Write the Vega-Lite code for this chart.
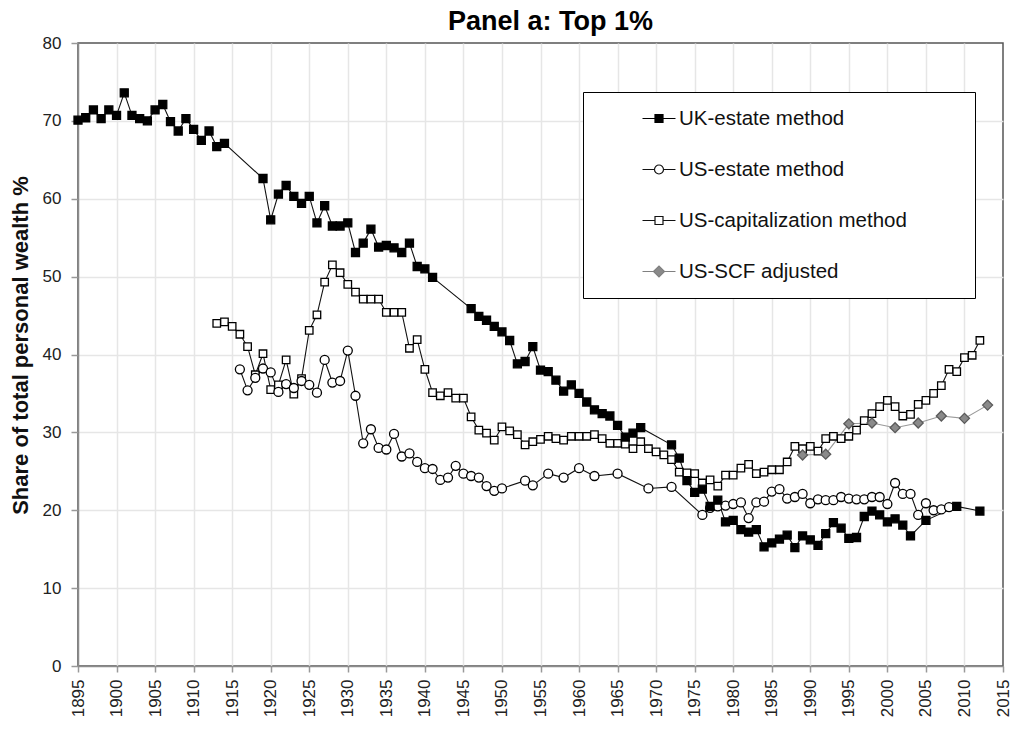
{
  "$schema": "https://vega.github.io/schema/vega-lite/v6.json",
  "width": 925,
  "height": 623,
  "autosize": {"type": "none"},
  "padding": {"left": 78, "top": 43, "right": 14, "bottom": 67},
  "background": "white",
  "config": {
    "font": "Liberation Sans",
    "view": {"stroke": "#555", "strokeWidth": 1.5},
    "legend": {
      "title": null,
      "orient": "none",
      "legendX": 505,
      "legendY": 49,
      "padding": 1,
      "fillColor": "white",
      "strokeColor": "black",
      "symbolSize": 2401,
      "symbolOpacity": 1,
      "symbolOffset": 49.5,
      "symbolStrokeWidth": 1.2,
      "labelOffset": -5.5,
      "rowPadding": 0,
      "labelFont": "Liberation Sans",
      "labelFontSize": 20.5,
      "labelColor": "#111",
      "labelLimit": 400
    }
  },
  "title": {
    "text": "Panel a: Top 1%",
    "font": "Liberation Sans",
    "fontSize": 27,
    "fontWeight": "bold",
    "color": "black",
    "anchor": "middle",
    "frame": "group",
    "dx": 10,
    "dy": 9,
    "offset": 7
  },
  "data": {
    "values": [
      {"series": "US-capitalization method", "year": 1913, "share": 44.0},
      {"series": "US-capitalization method", "year": 1914, "share": 44.2},
      {"series": "US-capitalization method", "year": 1915, "share": 43.6},
      {"series": "US-capitalization method", "year": 1916, "share": 42.6},
      {"series": "US-capitalization method", "year": 1917, "share": 41.0},
      {"series": "US-capitalization method", "year": 1918, "share": 37.4},
      {"series": "US-capitalization method", "year": 1919, "share": 40.1},
      {"series": "US-capitalization method", "year": 1920, "share": 35.5},
      {"series": "US-capitalization method", "year": 1921, "share": 36.1},
      {"series": "US-capitalization method", "year": 1922, "share": 39.3},
      {"series": "US-capitalization method", "year": 1923, "share": 34.9},
      {"series": "US-capitalization method", "year": 1924, "share": 36.9},
      {"series": "US-capitalization method", "year": 1925, "share": 43.1},
      {"series": "US-capitalization method", "year": 1926, "share": 45.1},
      {"series": "US-capitalization method", "year": 1927, "share": 49.3},
      {"series": "US-capitalization method", "year": 1928, "share": 51.5},
      {"series": "US-capitalization method", "year": 1929, "share": 50.5},
      {"series": "US-capitalization method", "year": 1930, "share": 49.0},
      {"series": "US-capitalization method", "year": 1931, "share": 48.0},
      {"series": "US-capitalization method", "year": 1932, "share": 47.1},
      {"series": "US-capitalization method", "year": 1933, "share": 47.1},
      {"series": "US-capitalization method", "year": 1934, "share": 47.1},
      {"series": "US-capitalization method", "year": 1935, "share": 45.4},
      {"series": "US-capitalization method", "year": 1936, "share": 45.4},
      {"series": "US-capitalization method", "year": 1937, "share": 45.4},
      {"series": "US-capitalization method", "year": 1938, "share": 40.8},
      {"series": "US-capitalization method", "year": 1939, "share": 41.9},
      {"series": "US-capitalization method", "year": 1940, "share": 38.1},
      {"series": "US-capitalization method", "year": 1941, "share": 35.1},
      {"series": "US-capitalization method", "year": 1942, "share": 34.7},
      {"series": "US-capitalization method", "year": 1943, "share": 35.1},
      {"series": "US-capitalization method", "year": 1944, "share": 34.4},
      {"series": "US-capitalization method", "year": 1945, "share": 34.4},
      {"series": "US-capitalization method", "year": 1946, "share": 32.0},
      {"series": "US-capitalization method", "year": 1947, "share": 30.3},
      {"series": "US-capitalization method", "year": 1948, "share": 29.9},
      {"series": "US-capitalization method", "year": 1949, "share": 29.0},
      {"series": "US-capitalization method", "year": 1950, "share": 30.7},
      {"series": "US-capitalization method", "year": 1951, "share": 30.2},
      {"series": "US-capitalization method", "year": 1952, "share": 29.7},
      {"series": "US-capitalization method", "year": 1953, "share": 28.4},
      {"series": "US-capitalization method", "year": 1954, "share": 28.8},
      {"series": "US-capitalization method", "year": 1955, "share": 29.1},
      {"series": "US-capitalization method", "year": 1956, "share": 29.5},
      {"series": "US-capitalization method", "year": 1957, "share": 29.2},
      {"series": "US-capitalization method", "year": 1958, "share": 29.0},
      {"series": "US-capitalization method", "year": 1959, "share": 29.5},
      {"series": "US-capitalization method", "year": 1960, "share": 29.5},
      {"series": "US-capitalization method", "year": 1961, "share": 29.5},
      {"series": "US-capitalization method", "year": 1962, "share": 29.7},
      {"series": "US-capitalization method", "year": 1963, "share": 29.2},
      {"series": "US-capitalization method", "year": 1964, "share": 28.6},
      {"series": "US-capitalization method", "year": 1965, "share": 28.6},
      {"series": "US-capitalization method", "year": 1966, "share": 28.5},
      {"series": "US-capitalization method", "year": 1967, "share": 27.9},
      {"series": "US-capitalization method", "year": 1968, "share": 28.8},
      {"series": "US-capitalization method", "year": 1969, "share": 27.9},
      {"series": "US-capitalization method", "year": 1970, "share": 27.5},
      {"series": "US-capitalization method", "year": 1971, "share": 27.1},
      {"series": "US-capitalization method", "year": 1972, "share": 26.5},
      {"series": "US-capitalization method", "year": 1973, "share": 24.9},
      {"series": "US-capitalization method", "year": 1974, "share": 24.8},
      {"series": "US-capitalization method", "year": 1975, "share": 24.7},
      {"series": "US-capitalization method", "year": 1976, "share": 23.5},
      {"series": "US-capitalization method", "year": 1977, "share": 23.9},
      {"series": "US-capitalization method", "year": 1978, "share": 23.1},
      {"series": "US-capitalization method", "year": 1979, "share": 24.5},
      {"series": "US-capitalization method", "year": 1980, "share": 24.5},
      {"series": "US-capitalization method", "year": 1981, "share": 25.4},
      {"series": "US-capitalization method", "year": 1982, "share": 25.9},
      {"series": "US-capitalization method", "year": 1983, "share": 24.7},
      {"series": "US-capitalization method", "year": 1984, "share": 24.9},
      {"series": "US-capitalization method", "year": 1985, "share": 25.2},
      {"series": "US-capitalization method", "year": 1986, "share": 25.2},
      {"series": "US-capitalization method", "year": 1987, "share": 26.2},
      {"series": "US-capitalization method", "year": 1988, "share": 28.2},
      {"series": "US-capitalization method", "year": 1989, "share": 27.9},
      {"series": "US-capitalization method", "year": 1990, "share": 28.2},
      {"series": "US-capitalization method", "year": 1991, "share": 27.6},
      {"series": "US-capitalization method", "year": 1992, "share": 29.2},
      {"series": "US-capitalization method", "year": 1993, "share": 29.5},
      {"series": "US-capitalization method", "year": 1994, "share": 29.2},
      {"series": "US-capitalization method", "year": 1995, "share": 29.5},
      {"series": "US-capitalization method", "year": 1996, "share": 30.3},
      {"series": "US-capitalization method", "year": 1997, "share": 31.5},
      {"series": "US-capitalization method", "year": 1998, "share": 32.4},
      {"series": "US-capitalization method", "year": 1999, "share": 33.3},
      {"series": "US-capitalization method", "year": 2000, "share": 34.1},
      {"series": "US-capitalization method", "year": 2001, "share": 33.3},
      {"series": "US-capitalization method", "year": 2002, "share": 32.1},
      {"series": "US-capitalization method", "year": 2003, "share": 32.3},
      {"series": "US-capitalization method", "year": 2004, "share": 33.6},
      {"series": "US-capitalization method", "year": 2005, "share": 34.1},
      {"series": "US-capitalization method", "year": 2006, "share": 35.0},
      {"series": "US-capitalization method", "year": 2007, "share": 36.0},
      {"series": "US-capitalization method", "year": 2008, "share": 38.1},
      {"series": "US-capitalization method", "year": 2009, "share": 37.8},
      {"series": "US-capitalization method", "year": 2010, "share": 39.6},
      {"series": "US-capitalization method", "year": 2011, "share": 39.9},
      {"series": "US-capitalization method", "year": 2012, "share": 41.8},

      {"series": "US-estate method", "year": 1916, "share": 38.1},
      {"series": "US-estate method", "year": 1917, "share": 35.4},
      {"series": "US-estate method", "year": 1918, "share": 37.0},
      {"series": "US-estate method", "year": 1919, "share": 38.2},
      {"series": "US-estate method", "year": 1920, "share": 37.7},
      {"series": "US-estate method", "year": 1921, "share": 35.2},
      {"series": "US-estate method", "year": 1922, "share": 36.2},
      {"series": "US-estate method", "year": 1923, "share": 35.7},
      {"series": "US-estate method", "year": 1924, "share": 36.6},
      {"series": "US-estate method", "year": 1925, "share": 36.1},
      {"series": "US-estate method", "year": 1926, "share": 35.1},
      {"series": "US-estate method", "year": 1927, "share": 39.3},
      {"series": "US-estate method", "year": 1928, "share": 36.4},
      {"series": "US-estate method", "year": 1929, "share": 36.6},
      {"series": "US-estate method", "year": 1930, "share": 40.5},
      {"series": "US-estate method", "year": 1931, "share": 34.7},
      {"series": "US-estate method", "year": 1932, "share": 28.6},
      {"series": "US-estate method", "year": 1933, "share": 30.4},
      {"series": "US-estate method", "year": 1934, "share": 28.0},
      {"series": "US-estate method", "year": 1935, "share": 27.8},
      {"series": "US-estate method", "year": 1936, "share": 29.8},
      {"series": "US-estate method", "year": 1937, "share": 26.9},
      {"series": "US-estate method", "year": 1938, "share": 27.3},
      {"series": "US-estate method", "year": 1939, "share": 26.2},
      {"series": "US-estate method", "year": 1940, "share": 25.4},
      {"series": "US-estate method", "year": 1941, "share": 25.3},
      {"series": "US-estate method", "year": 1942, "share": 23.9},
      {"series": "US-estate method", "year": 1943, "share": 24.2},
      {"series": "US-estate method", "year": 1944, "share": 25.7},
      {"series": "US-estate method", "year": 1945, "share": 24.7},
      {"series": "US-estate method", "year": 1946, "share": 24.4},
      {"series": "US-estate method", "year": 1947, "share": 24.2},
      {"series": "US-estate method", "year": 1948, "share": 23.1},
      {"series": "US-estate method", "year": 1949, "share": 22.5},
      {"series": "US-estate method", "year": 1950, "share": 22.8},
      {"series": "US-estate method", "year": 1953, "share": 23.8},
      {"series": "US-estate method", "year": 1954, "share": 23.2},
      {"series": "US-estate method", "year": 1956, "share": 24.7},
      {"series": "US-estate method", "year": 1958, "share": 24.2},
      {"series": "US-estate method", "year": 1960, "share": 25.4},
      {"series": "US-estate method", "year": 1962, "share": 24.4},
      {"series": "US-estate method", "year": 1965, "share": 24.7},
      {"series": "US-estate method", "year": 1969, "share": 22.8},
      {"series": "US-estate method", "year": 1972, "share": 23.0},
      {"series": "US-estate method", "year": 1976, "share": 19.4},
      {"series": "US-estate method", "year": 1977, "share": 20.3},
      {"series": "US-estate method", "year": 1978, "share": 20.5},
      {"series": "US-estate method", "year": 1979, "share": 20.6},
      {"series": "US-estate method", "year": 1980, "share": 20.8},
      {"series": "US-estate method", "year": 1981, "share": 21.0},
      {"series": "US-estate method", "year": 1982, "share": 19.0},
      {"series": "US-estate method", "year": 1983, "share": 21.0},
      {"series": "US-estate method", "year": 1984, "share": 21.1},
      {"series": "US-estate method", "year": 1985, "share": 22.4},
      {"series": "US-estate method", "year": 1986, "share": 22.7},
      {"series": "US-estate method", "year": 1987, "share": 21.5},
      {"series": "US-estate method", "year": 1988, "share": 21.7},
      {"series": "US-estate method", "year": 1989, "share": 22.1},
      {"series": "US-estate method", "year": 1990, "share": 20.9},
      {"series": "US-estate method", "year": 1991, "share": 21.4},
      {"series": "US-estate method", "year": 1992, "share": 21.3},
      {"series": "US-estate method", "year": 1993, "share": 21.3},
      {"series": "US-estate method", "year": 1994, "share": 21.7},
      {"series": "US-estate method", "year": 1995, "share": 21.5},
      {"series": "US-estate method", "year": 1996, "share": 21.4},
      {"series": "US-estate method", "year": 1997, "share": 21.4},
      {"series": "US-estate method", "year": 1998, "share": 21.7},
      {"series": "US-estate method", "year": 1999, "share": 21.7},
      {"series": "US-estate method", "year": 2000, "share": 20.8},
      {"series": "US-estate method", "year": 2001, "share": 23.5},
      {"series": "US-estate method", "year": 2002, "share": 22.1},
      {"series": "US-estate method", "year": 2003, "share": 22.1},
      {"series": "US-estate method", "year": 2004, "share": 19.4},
      {"series": "US-estate method", "year": 2005, "share": 20.9},
      {"series": "US-estate method", "year": 2006, "share": 20.0},
      {"series": "US-estate method", "year": 2007, "share": 20.1},
      {"series": "US-estate method", "year": 2008, "share": 20.4},

      {"series": "US-SCF adjusted", "year": 1989, "share": 27.1},
      {"series": "US-SCF adjusted", "year": 1992, "share": 27.2},
      {"series": "US-SCF adjusted", "year": 1995, "share": 31.1},
      {"series": "US-SCF adjusted", "year": 1998, "share": 31.2},
      {"series": "US-SCF adjusted", "year": 2001, "share": 30.6},
      {"series": "US-SCF adjusted", "year": 2004, "share": 31.2},
      {"series": "US-SCF adjusted", "year": 2007, "share": 32.1},
      {"series": "US-SCF adjusted", "year": 2010, "share": 31.8},
      {"series": "US-SCF adjusted", "year": 2013, "share": 33.5},

      {"series": "UK-estate method", "year": 1895, "share": 70.1},
      {"series": "UK-estate method", "year": 1896, "share": 70.4},
      {"series": "UK-estate method", "year": 1897, "share": 71.4},
      {"series": "UK-estate method", "year": 1898, "share": 70.3},
      {"series": "UK-estate method", "year": 1899, "share": 71.4},
      {"series": "UK-estate method", "year": 1900, "share": 70.7},
      {"series": "UK-estate method", "year": 1901, "share": 73.6},
      {"series": "UK-estate method", "year": 1902, "share": 70.7},
      {"series": "UK-estate method", "year": 1903, "share": 70.3},
      {"series": "UK-estate method", "year": 1904, "share": 70.0},
      {"series": "UK-estate method", "year": 1905, "share": 71.4},
      {"series": "UK-estate method", "year": 1906, "share": 72.1},
      {"series": "UK-estate method", "year": 1907, "share": 69.9},
      {"series": "UK-estate method", "year": 1908, "share": 68.7},
      {"series": "UK-estate method", "year": 1909, "share": 70.3},
      {"series": "UK-estate method", "year": 1910, "share": 68.9},
      {"series": "UK-estate method", "year": 1911, "share": 67.5},
      {"series": "UK-estate method", "year": 1912, "share": 68.7},
      {"series": "UK-estate method", "year": 1913, "share": 66.7},
      {"series": "UK-estate method", "year": 1914, "share": 67.1},
      {"series": "UK-estate method", "year": 1919, "share": 62.6},
      {"series": "UK-estate method", "year": 1920, "share": 57.3},
      {"series": "UK-estate method", "year": 1921, "share": 60.6},
      {"series": "UK-estate method", "year": 1922, "share": 61.7},
      {"series": "UK-estate method", "year": 1923, "share": 60.3},
      {"series": "UK-estate method", "year": 1924, "share": 59.4},
      {"series": "UK-estate method", "year": 1925, "share": 60.3},
      {"series": "UK-estate method", "year": 1926, "share": 56.9},
      {"series": "UK-estate method", "year": 1927, "share": 59.1},
      {"series": "UK-estate method", "year": 1928, "share": 56.5},
      {"series": "UK-estate method", "year": 1929, "share": 56.5},
      {"series": "UK-estate method", "year": 1930, "share": 56.9},
      {"series": "UK-estate method", "year": 1931, "share": 53.1},
      {"series": "UK-estate method", "year": 1932, "share": 54.3},
      {"series": "UK-estate method", "year": 1933, "share": 56.1},
      {"series": "UK-estate method", "year": 1934, "share": 53.8},
      {"series": "UK-estate method", "year": 1935, "share": 54.0},
      {"series": "UK-estate method", "year": 1936, "share": 53.7},
      {"series": "UK-estate method", "year": 1937, "share": 53.1},
      {"series": "UK-estate method", "year": 1938, "share": 54.3},
      {"series": "UK-estate method", "year": 1939, "share": 51.3},
      {"series": "UK-estate method", "year": 1940, "share": 51.0},
      {"series": "UK-estate method", "year": 1941, "share": 49.9},
      {"series": "UK-estate method", "year": 1946, "share": 45.9},
      {"series": "UK-estate method", "year": 1947, "share": 44.9},
      {"series": "UK-estate method", "year": 1948, "share": 44.4},
      {"series": "UK-estate method", "year": 1949, "share": 43.6},
      {"series": "UK-estate method", "year": 1950, "share": 42.9},
      {"series": "UK-estate method", "year": 1951, "share": 41.8},
      {"series": "UK-estate method", "year": 1952, "share": 38.8},
      {"series": "UK-estate method", "year": 1953, "share": 39.1},
      {"series": "UK-estate method", "year": 1954, "share": 41.0},
      {"series": "UK-estate method", "year": 1955, "share": 38.0},
      {"series": "UK-estate method", "year": 1956, "share": 37.8},
      {"series": "UK-estate method", "year": 1957, "share": 36.7},
      {"series": "UK-estate method", "year": 1958, "share": 35.3},
      {"series": "UK-estate method", "year": 1959, "share": 36.1},
      {"series": "UK-estate method", "year": 1960, "share": 35.0},
      {"series": "UK-estate method", "year": 1961, "share": 33.9},
      {"series": "UK-estate method", "year": 1962, "share": 32.9},
      {"series": "UK-estate method", "year": 1963, "share": 32.4},
      {"series": "UK-estate method", "year": 1964, "share": 32.1},
      {"series": "UK-estate method", "year": 1965, "share": 30.9},
      {"series": "UK-estate method", "year": 1966, "share": 29.4},
      {"series": "UK-estate method", "year": 1967, "share": 29.9},
      {"series": "UK-estate method", "year": 1968, "share": 30.6},
      {"series": "UK-estate method", "year": 1972, "share": 28.4},
      {"series": "UK-estate method", "year": 1973, "share": 26.7},
      {"series": "UK-estate method", "year": 1974, "share": 23.8},
      {"series": "UK-estate method", "year": 1975, "share": 22.3},
      {"series": "UK-estate method", "year": 1976, "share": 22.7},
      {"series": "UK-estate method", "year": 1977, "share": 20.5},
      {"series": "UK-estate method", "year": 1978, "share": 21.3},
      {"series": "UK-estate method", "year": 1979, "share": 18.5},
      {"series": "UK-estate method", "year": 1980, "share": 18.7},
      {"series": "UK-estate method", "year": 1981, "share": 17.5},
      {"series": "UK-estate method", "year": 1982, "share": 17.2},
      {"series": "UK-estate method", "year": 1983, "share": 17.5},
      {"series": "UK-estate method", "year": 1984, "share": 15.3},
      {"series": "UK-estate method", "year": 1985, "share": 15.8},
      {"series": "UK-estate method", "year": 1986, "share": 16.3},
      {"series": "UK-estate method", "year": 1987, "share": 16.8},
      {"series": "UK-estate method", "year": 1988, "share": 15.2},
      {"series": "UK-estate method", "year": 1989, "share": 16.7},
      {"series": "UK-estate method", "year": 1990, "share": 16.2},
      {"series": "UK-estate method", "year": 1991, "share": 15.5},
      {"series": "UK-estate method", "year": 1992, "share": 17.0},
      {"series": "UK-estate method", "year": 1993, "share": 18.4},
      {"series": "UK-estate method", "year": 1994, "share": 17.7},
      {"series": "UK-estate method", "year": 1995, "share": 16.4},
      {"series": "UK-estate method", "year": 1996, "share": 16.5},
      {"series": "UK-estate method", "year": 1997, "share": 19.2},
      {"series": "UK-estate method", "year": 1998, "share": 19.9},
      {"series": "UK-estate method", "year": 1999, "share": 19.4},
      {"series": "UK-estate method", "year": 2000, "share": 18.5},
      {"series": "UK-estate method", "year": 2001, "share": 18.9},
      {"series": "UK-estate method", "year": 2002, "share": 18.1},
      {"series": "UK-estate method", "year": 2003, "share": 16.7},
      {"series": "UK-estate method", "year": 2005, "share": 18.7},
      {"series": "UK-estate method", "year": 2009, "share": 20.5},
      {"series": "UK-estate method", "year": 2012, "share": 19.9}
    ]
  },
  "encoding": {
    "x": {
      "field": "year",
      "type": "quantitative",
      "scale": {"domain": [1895, 2015], "nice": false, "zero": false},
      "axis": {
        "title": null,
        "values": [1895, 1900, 1905, 1910, 1915, 1920, 1925, 1930, 1935, 1940, 1945, 1950, 1955, 1960, 1965, 1970, 1975, 1980, 1985, 1990, 1995, 2000, 2005, 2010, 2015],
        "format": "d",
        "labelAngle": 270,
        "labelFont": "Liberation Sans",
        "labelFontSize": 17,
        "labelColor": "#222",
        "labelPadding": 7,
        "labelOverlap": false,
        "labelFlush": false,
        "tickColor": "#999",
        "tickSize": 6,
        "tickWidth": 1.5,
        "domainColor": "#8c8c8c",
        "domainWidth": 1.5,
        "grid": true,
        "gridColor": {"condition": {"test": "datum.value == 1895 || datum.value == 2015", "value": "transparent"}, "value": "#e6e6e6"},
        "gridWidth": 1.5
      }
    },
    "y": {
      "field": "share",
      "type": "quantitative",
      "scale": {"domain": [0, 80], "nice": false},
      "axis": {
        "title": "Share of total personal wealth %",
        "titleFont": "Liberation Sans",
        "titleFontSize": 22,
        "titleFontWeight": "bold",
        "titleColor": "#111",
        "titleAngle": 270,
        "titleAlign": "center",
        "titleBaseline": "middle",
        "titleX": -58,
        "titleY": 302,
        "values": [0, 10, 20, 30, 40, 50, 60, 70, 80],
        "labelFont": "Liberation Sans",
        "labelFontSize": 17,
        "labelColor": "#222",
        "labelPadding": 10,
        "tickColor": "#999",
        "tickSize": 7,
        "tickWidth": 1.5,
        "domainColor": "#8c8c8c",
        "domainWidth": 1.5,
        "grid": true,
        "gridColor": {"condition": {"test": "datum.value == 0 || datum.value == 80", "value": "transparent"}, "value": "#e6e6e6"},
        "gridWidth": 1.5
      }
    }
  },
  "layer": [
    {
      "mark": {"type": "line", "strokeWidth": 1.1},
      "encoding": {
        "detail": {"field": "series", "type": "nominal"},
        "stroke": {
          "condition": {"test": "datum.series == 'US-SCF adjusted'", "value": "#999999"},
          "value": "#111111"
        }
      }
    },
    {
      "mark": {"type": "point", "filled": true, "opacity": 0},
      "encoding": {
        "shape": {
          "field": "series",
          "type": "nominal",
          "scale": {
            "domain": ["UK-estate method", "US-estate method", "US-capitalization method", "US-SCF adjusted"],
            "range": [
              "M-0.673,0H-0.163M0.163,0H0.673M-0.163,-0.163H0.163V0.163H-0.163ZM0,-0.94M0,0.94M12.755,0",
              "M-0.673,0H-0.184M0.184,0H0.673M-0.184,0A0.184,0.184,0,1,1,0.184,0A0.184,0.184,0,1,1,-0.184,0ZM0,-0.94M0,0.94M12.755,0",
              "M-0.673,0H-0.163M0.163,0H0.673M-0.163,-0.163H0.163V0.163H-0.163ZM0,-0.94M0,0.94M12.755,0",
              "M-0.673,0H-0.224M0.224,0H0.673M-0.224,0L0,-0.224L0.224,0L0,0.224ZM0,-0.94M0,0.94M12.755,0"
            ]
          }
        },
        "fill": {
          "field": "series",
          "type": "nominal",
          "scale": {
            "domain": ["UK-estate method", "US-estate method", "US-capitalization method", "US-SCF adjusted"],
            "range": ["#000000", "#ffffff", "#ffffff", "#8a8a8a"]
          }
        },
        "stroke": {
          "field": "series",
          "type": "nominal",
          "scale": {
            "domain": ["UK-estate method", "US-estate method", "US-capitalization method", "US-SCF adjusted"],
            "range": ["#000000", "#111111", "#111111", "#808080"]
          }
        }
      }
    },
    {
      "mark": {"type": "point", "filled": true, "opacity": 1, "strokeWidth": 1.3},
      "encoding": {
        "size": {
          "condition": [
            {"test": "datum.series == 'US-SCF adjusted'", "value": 100},
            {"test": "datum.series == 'US-estate method'", "value": 81},
            {"test": "datum.series == 'US-capitalization method'", "value": 56}
          ],
          "value": 64
        },
        "shape": {
          "condition": [
            {"test": "datum.series == 'US-estate method'", "value": "circle"},
            {"test": "datum.series == 'US-SCF adjusted'", "value": "diamond"}
          ],
          "value": "square"
        },
        "fill": {
          "condition": [
            {"test": "datum.series == 'UK-estate method'", "value": "#000000"},
            {"test": "datum.series == 'US-SCF adjusted'", "value": "#8a8a8a"}
          ],
          "value": "#ffffff"
        },
        "stroke": {
          "condition": {"test": "datum.series == 'US-SCF adjusted'", "value": "#5a5a5a"},
          "value": "#000000"
        }
      }
    }
  ]
}
